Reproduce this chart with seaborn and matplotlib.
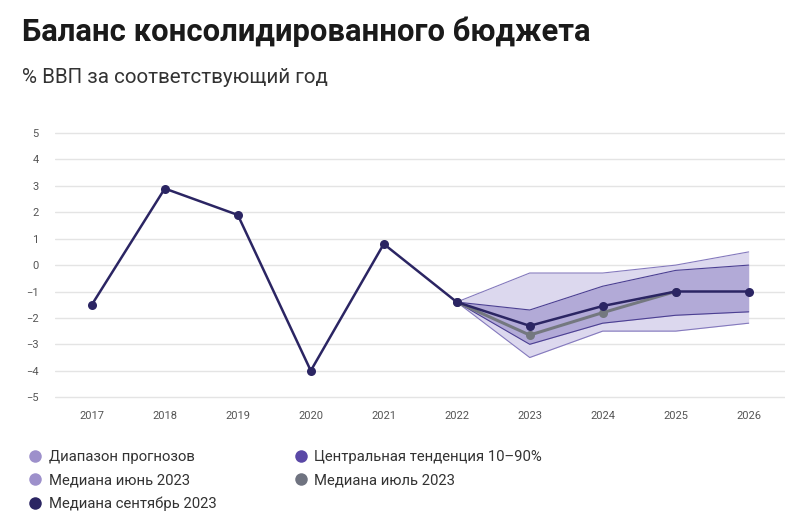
import matplotlib
matplotlib.use('Agg')
import matplotlib.pyplot as plt
from matplotlib.lines import Line2D
import seaborn as sns
import pandas as pd

# Data
years = ['2017', '2018', '2019', '2020', '2021', '2022', '2023', '2024', '2025', '2026']
median_sep = [-1.5, 2.9, 1.9, -4.0, 0.8, -1.4, -2.3, -1.55, -1.0, -1.0]

fc_years = ['2022', '2023', '2024', '2025', '2026']
range_lo = [-1.4, -3.5, -2.5, -2.5, -2.2]
range_hi = [-1.4, -0.3, -0.3, 0.0, 0.5]
central_lo = [-1.4, -3.0, -2.2, -1.9, -1.77]
central_hi = [-1.4, -1.7, -0.8, -0.2, 0.0]

jul_years = ['2022', '2023', '2024', '2025']
median_jul = [-1.4, -2.65, -1.8, -1.0]

legend_labels = ['Диапазон прогнозов', 'Медиана июнь 2023', 'Медиана сентябрь 2023',
                 'Центральная тенденция 10–90%', 'Медиана июль 2023']
legend_colors = ['#9d90cb', '#9d90cb', '#2b2563', '#5a48a6', '#6f7380']

title = 'Баланс консолидированного бюджета'
subtitle = '% ВВП за соответствующий год'

sns.set_theme(style='white')
plt.rcParams['font.family'] = ['Roboto', 'DejaVu Sans']

pos = {y: i for i, y in enumerate(years)}
df_main = pd.DataFrame({'x': [pos[y] for y in years], 'v': median_sep})
df_jul = pd.DataFrame({'x': [pos[y] for y in jul_years], 'v': median_jul})
fx = [pos[y] for y in fc_years]

fig = plt.figure(figsize=(8.02, 5.26), dpi=100)
ax = fig.add_axes([0.069, 0.235, 0.91, 0.522])

# forecast ranges
ax.fill_between(fx, range_lo, range_hi, color='#dcd8ee', lw=0, zorder=1)
ax.plot(fx, range_lo, color='#8479bd', lw=0.8, zorder=2)
ax.plot(fx, range_hi, color='#8479bd', lw=0.8, zorder=2)
ax.fill_between(fx, central_lo, central_hi, color='#b2aad7', lw=0, zorder=3)
ax.plot(fx, central_lo, color='#4b3f92', lw=0.8, zorder=4)
ax.plot(fx, central_hi, color='#4b3f92', lw=0.8, zorder=4)

sns.lineplot(data=df_jul, x='x', y='v', ax=ax, color='#74787f', lw=2.2,
             marker='o', markersize=6.5, markeredgewidth=0, zorder=5)
sns.lineplot(data=df_main, x='x', y='v', ax=ax, color='#2b2563', lw=1.8,
             marker='o', markersize=6.5, markeredgewidth=0, zorder=6)

ax.set_xlim(-0.5, len(years) - 0.5)
ax.set_ylim(-5.2, 5.2)
ax.set_xticks(range(len(years)))
ax.set_xticklabels(years)
ax.set_yticks(range(-5, 6))
ax.set_xlabel('')
ax.set_ylabel('')
ax.grid(axis='y', color='#e4e4e4', lw=1)
ax.grid(axis='x', visible=False)
for s in ax.spines.values():
    s.set_visible(False)
ax.tick_params(axis='both', labelsize=8, labelcolor='#555555', length=0)
ax.tick_params(axis='y', pad=12)
ax.tick_params(axis='x', pad=6)

fig.text(0.027, 0.922, title, fontsize=22.3, fontweight='bold', color='#1a1a1a')
fig.text(0.027, 0.843, subtitle, fontsize=14.8, color='#333333')

handles = [Line2D([], [], marker='o', ls='', markersize=9, markeredgewidth=0,
                  color=c) for c in legend_colors]
fig.legend(handles, legend_labels, ncol=2, loc='upper left',
           bbox_to_anchor=(0.018, 0.170), frameon=False, fontsize=10.7,
           handletextpad=0.4, columnspacing=5.2, labelspacing=0.62,
           handlelength=1.0, labelcolor='#333333')

fig.savefig('out.png', dpi=100, facecolor='white')
